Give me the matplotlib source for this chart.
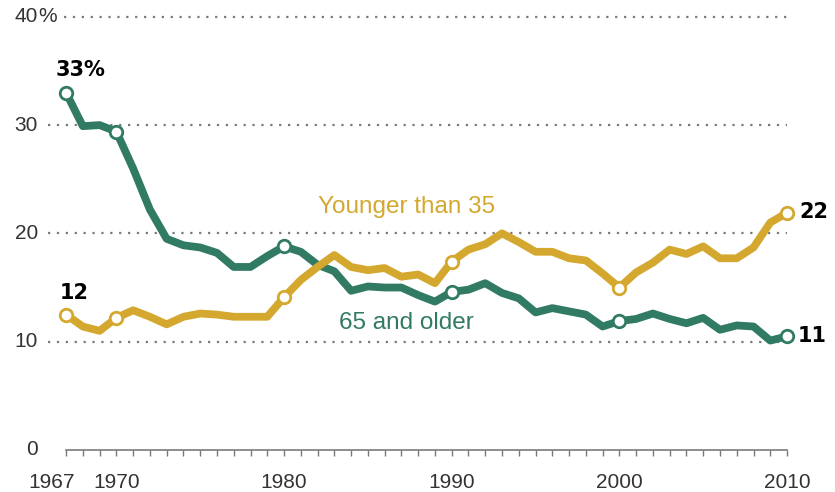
import matplotlib
matplotlib.use("Agg")
import matplotlib.pyplot as plt
from matplotlib.transforms import blended_transform_factory, ScaledTranslation

# share of each age group, by year
years = list(range(1967, 2011))
younger = [12.5, 11.4, 11.0, 12.2, 12.9, 12.3, 11.6, 12.3, 12.6, 12.5,
           12.3, 12.3, 12.3, 14.1, 15.7, 16.9, 18.0, 16.9, 16.6, 16.8,
           16.0, 16.2, 15.4, 17.4, 18.5, 19.0, 20.0, 19.2, 18.3, 18.3,
           17.7, 17.5, 16.3, 15.0, 16.4, 17.3, 18.5, 18.1, 18.8, 17.7,
           17.7, 18.7, 21.0, 21.9]
older = [33.0, 29.9, 30.0, 29.4, 26.0, 22.2, 19.5, 18.9, 18.7, 18.2,
         16.9, 16.9, 17.9, 18.8, 18.3, 17.1, 16.5, 14.7, 15.1, 15.0,
         15.0, 14.3, 13.7, 14.6, 14.8, 15.4, 14.5, 14.0, 12.7, 13.1,
         12.8, 12.5, 11.4, 11.9, 12.1, 12.6, 12.1, 11.7, 12.2, 11.1,
         11.5, 11.4, 10.1, 10.5]
marker_years = [1967, 1970, 1980, 1990, 2000, 2010]
label_years = [1967, 1970, 1980, 1990, 2000, 2010]
y_ticks = [0, 10, 20, 30, 40]
y_labels = ["0", "10", "20", "30", "40"]

green = "#317a64"
gold = "#d4a82f"
grey = "#7a7a7a"
font = "Liberation Sans"

fig = plt.figure(figsize=(8.35, 4.92), dpi=100)
ax = fig.add_axes([0, 0, 1, 1])
ax.set_xlim(1963.06, 2012.86)
ax.set_ylim(-3.88, 41.55)
for s in ["top", "right", "left"]:
    ax.spines[s].set_visible(False)
ax.spines["bottom"].set_position(("data", 0))
ax.spines["bottom"].set_bounds(1967, 2010)
ax.spines["bottom"].set_color(grey)
ax.spines["bottom"].set_linewidth(1.2)

# dotted gridlines, starting just past the labels
for v in y_ticks[1:]:
    start = 1966.9 if v == 40 else 1965.9
    ax.plot([start, 2010], [v, v], color=grey, linewidth=1.6,
            linestyle=(0, (1, 3)), zorder=1)

# y labels: numbers right-aligned, the % hangs past them
trans = blended_transform_factory(fig.transFigure, ax.transData)
for v, lab in zip(y_ticks, y_labels):
    ax.text(38 / 835, v, lab, transform=trans, ha="right", va="center",
            fontsize=15, color="#333333", family=font)
ax.text(38 / 835, 40, "%", transform=trans, ha="left", va="center",
        fontsize=15, color="#333333", family=font)

ax.set_yticks([])
ax.set_xticks(years, minor=True)
ax.set_xticks(label_years)
ax.set_xticklabels([str(y) for y in label_years], fontsize=15,
                   color="#333333", family=font)
ax.tick_params(axis="x", which="both", direction="out", length=4.5,
               width=1, color=grey, pad=12)
# nudge 1967 left so it clears 1970
first = ax.get_xticklabels()[0]
first.set_transform(first.get_transform() + ScaledTranslation(-0.14, 0, fig.dpi_scale_trans))

for vals, col in [(older, green), (younger, gold)]:
    ax.plot(years, vals, color=col, linewidth=5.6, solid_joinstyle="round",
            solid_capstyle="round", zorder=3)
    mv = [vals[years.index(y)] for y in marker_years]
    ax.plot(marker_years, mv, linestyle="none", marker="o", markersize=9,
            markerfacecolor="white", markeredgecolor=col,
            markeredgewidth=2, zorder=4)

# series labels
ax.text(1987.3, 22.4, "Younger than 35", color=gold, fontsize=17.5,
        ha="center", va="center", family=font)
ax.text(1987.3, 11.7, "65 and older", color=green, fontsize=17.5,
        ha="center", va="center", family=font)

# end-point values
bold = dict(fontsize=15, fontweight="bold", color="black", family="DejaVu Sans")
ax.text(1967.85, 35.1, "33%", ha="center", va="center", **bold)
ax.text(1967.5, 14.5, "12", ha="center", va="center", **bold)
ax.text(2010.75, 22.0, "22", ha="left", va="center", **bold)
ax.text(2010.65, 10.5, "11", ha="left", va="center", **bold)

fig.savefig("out.png", dpi=100)
